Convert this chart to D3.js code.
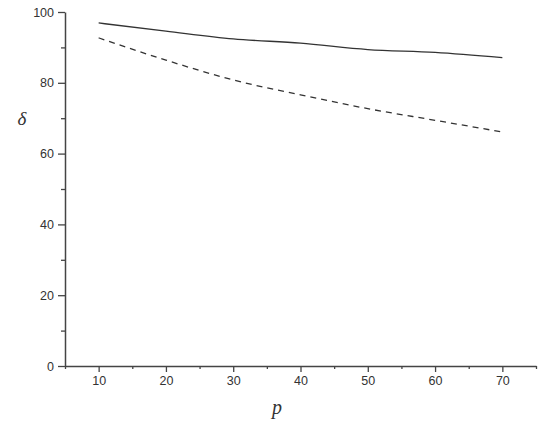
<!DOCTYPE html>
<html><head><meta charset="utf-8">
<script src="https://cdn.jsdelivr.net/npm/d3@7"></script>
<style>body{margin:0;background:#fff}svg{display:block}</style>
</head><body>
<svg id="c" width="556" height="426"></svg>
<script>
const pValues = [10, 20, 30, 40, 50, 60, 70];
const solidSeries = [96.9, 94.6, 92.4, 91.2, 89.4, 88.6, 87.1];
const dashedSeries = [92.7, 86.4, 80.8, 76.6, 72.7, 69.4, 66.1];
const xTicks = [10, 20, 30, 40, 50, 60, 70];
const yTicks = [0, 20, 40, 60, 80, 100];
const xMinor = [5, 15, 25, 35, 45, 55, 65, 75];
const yMinor = [10, 30, 50, 70, 90];

const svg = d3.select("#c");
const x = d3.scaleLinear().domain([5, 75]).range([65, 536]);
const y = d3.scaleLinear().domain([0, 100]).range([366, 12]);
const axisColor = "#444";

svg.append("g").attr("transform", `translate(0,${y(0)})`)
  .call(d3.axisBottom(x).tickValues(xTicks).tickSize(6).tickSizeOuter(0).tickPadding(4));
svg.append("g").attr("transform", `translate(0,${y(0)})`)
  .call(d3.axisBottom(x).tickValues(xMinor).tickSize(3).tickFormat("").tickSizeOuter(0))
  .select(".domain").remove();
svg.append("g").attr("transform", `translate(${x(5)},0)`)
  .call(d3.axisLeft(y).tickValues(yTicks).tickSize(7).tickSizeOuter(0).tickPadding(4));
svg.append("g").attr("transform", `translate(${x(5)},0)`)
  .call(d3.axisLeft(y).tickValues(yMinor).tickSize(4).tickFormat("").tickSizeOuter(0))
  .select(".domain").remove();

svg.selectAll(".domain").attr("stroke", axisColor).attr("stroke-width", 1.5);
svg.selectAll(".tick line").attr("stroke", axisColor).attr("stroke-width", 1.3);
svg.selectAll(".tick text").attr("fill", "#333")
  .style("font-family", "'Liberation Sans', Arial, sans-serif").style("font-size", "12.5px");

const line = (vals) => d3.line().x((d, i) => x(pValues[i])).y(d => y(d)).curve(d3.curveMonotoneX)(vals);

svg.append("path").attr("d", line(solidSeries)).attr("fill", "none")
  .attr("stroke", "#333").attr("stroke-width", 1.3);
svg.append("path").attr("d", line(dashedSeries)).attr("fill", "none")
  .attr("stroke", "#333").attr("stroke-width", 1.3).attr("stroke-dasharray", "6,5");

svg.append("text").attr("x", 22).attr("y", 125).attr("text-anchor", "middle")
  .style("font-family", "'Liberation Serif', 'Times New Roman', serif")
  .style("font-style", "italic").style("font-size", "19px").attr("fill", "#333").text("δ");
svg.append("text").attr("x", 277).attr("y", 414).attr("text-anchor", "middle")
  .style("font-family", "'Liberation Serif', 'Times New Roman', serif")
  .style("font-style", "italic").style("font-size", "20px").attr("fill", "#333").text("p");
</script>
</body></html>
